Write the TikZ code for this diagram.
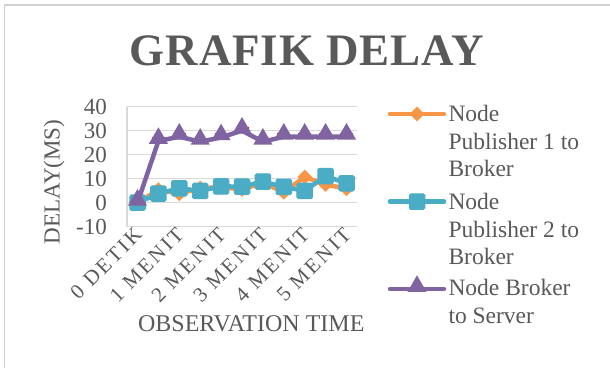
\documentclass[tikz,border=0pt]{standalone}
\usepackage{fontspec}
\setmainfont{Liberation Serif}
\newfontfamily\titlefont[LetterSpace=2]{Liberation Serif}
\newfontfamily\catfont[LetterSpace=12]{Liberation Serif}
\usetikzlibrary{shapes.geometric}
\definecolor{txtgray}{HTML}{595959}
\definecolor{gridgray}{HTML}{D9D9D9}
\definecolor{framegray}{HTML}{D0D0D0}
\definecolor{pubone}{HTML}{F79646}
\definecolor{pubtwo}{HTML}{4BACC6}
\definecolor{brkser}{HTML}{8064A2}

\begin{document}
\begin{tikzpicture}[x=1pt,y=-1pt,
  declare function={py(\v)=202.7-2.4*\v; cx(\i)=137.5+20.9*\i;},
  gridline/.style={gridgray, line width=1.3pt},
  series/.style={line width=4.5pt, line join=round, line cap=round},
  diamark/.style={diamond, fill=pubone, inner sep=0pt, minimum width=15pt, minimum height=15pt},
  sqmark/.style={rectangle, fill=pubtwo, draw=pubtwo, line width=1pt, rounded corners=1.5pt, inner sep=0pt, minimum size=15.5pt},
  trimark/.style={regular polygon, regular polygon sides=3, fill=brkser, inner sep=0pt, minimum size=22pt, yshift=2.7pt},
  redtick/.style={red, line width=2pt},
  ticklabel/.style={font=\fontsize{23}{27}\selectfont, text=txtgray, inner sep=0pt, anchor=east},
  catlabel/.style={font=\catfont\fontsize{21}{25}\selectfont, text=txtgray, inner sep=0pt, anchor=east, rotate=45},
  axtitle/.style={font=\fontsize{24}{28}\selectfont, text=txtgray, inner sep=0pt},
  legtext/.style={font=\fontsize{23.5}{27}\selectfont, text=txtgray, inner sep=0pt, anchor=base west},
  legline/.style={line width=4.5pt, line cap=round}
]
\useasboundingbox (0,0) rectangle (610,368);
\fill[white] (0,0) rectangle (610,368);

% chart frame (top and left edges)
\draw[framegray, line width=1.5pt] (4.5,368) -- (4.5,4.8) -- (610,4.8);

% title
\node[font=\titlefont\bfseries\fontsize{45}{50}\selectfont, text=txtgray, inner sep=0pt, anchor=base] (title) at (306.7,65) {GRAFIK DELAY};

% horizontal gridlines and value labels
\foreach \v [count=\k] in {-10,0,10,20,30,40} {
  \draw[gridline] (127,{py(\v)}) -- (357,{py(\v)});
  \node[ticklabel] (tick\k) at (107,{py(\v)}) {\v};
}
\draw[gridline] (127,{py(40)}) -- (127,{py(-10)});

% category labels
\foreach \lab [count=\k from 0] in {0 DETIK,1 MENIT,2 MENIT,3 MENIT,4 MENIT,5 MENIT}
  \node[catlabel] (cat\k) at ({cx(2*\k)+1},231) {\lab};

% axis titles
\node[axtitle, rotate=90, font=\fontsize{23}{27}\selectfont] (ytitle) at (54,182) {DELAY(MS)};
\node[axtitle, anchor=base] (xtitle) at (251.3,331.7) {OBSERVATION TIME};

% data points
\foreach \v [count=\i from 0] in {0,5.4,3.7,6.1,6.5,5.5,8.3,4.4,10.7,7.6,5.8}
  \coordinate (a\i) at ({cx(\i)},{py(\v)});
\foreach \v [count=\i from 0] in {0,3.8,6.0,4.9,6.8,6.7,8.8,6.6,4.9,11.1,8.1}
  \coordinate (b\i) at ({cx(\i)},{py(\v)});
\foreach \v [count=\i from 0] in {0,25.7,27.5,25.4,27.2,30,25.4,27.5,27.5,27.5,27.5}
  \coordinate (c\i) at ({cx(\i)},{py(\v)});

% Node Publisher 1 to Broker
\draw[series, pubone] (a0) \foreach \i in {1,...,10} { -- (a\i) };
\foreach \i in {0,...,10} \node[diamark] (ma\i) at (a\i) {};

% Node Publisher 2 to Broker
\draw[series, pubtwo] (b0) \foreach \i in {1,...,10} { -- (b\i) };
\foreach \i in {0,...,10} \node[sqmark] (mb\i) at (b\i) {};

% Node Broker to Server
\foreach \i in {1,...,10} {
  \coordinate (rl\i) at ([xshift=-6.5pt,yshift=3pt]c\i);
  \coordinate (rr\i) at ([xshift=6.5pt,yshift=3pt]c\i);
  \draw[redtick] (rl\i) -- (rr\i);
}
\draw[series, brkser] (c0) \foreach \i in {1,...,10} { -- (c\i) };
\foreach \i in {0,...,10} \node[trimark] (mc\i) at (c\i) {};

% legend
\coordinate (la0) at (390,114);   \coordinate (la1) at (444,114);
\coordinate (lb0) at (390,201.7); \coordinate (lb1) at (444,201.7);
\coordinate (lc0) at (390,289);   \coordinate (lc1) at (444,289);
\draw[legline, pubone] (la0) -- (la1);
\node[diamark] (lma) at (417,114) {};
\draw[legline, pubtwo] (lb0) -- (lb1);
\node[sqmark] (lmb) at (417,201.7) {};
\draw[legline, brkser] (lc0) -- (lc1);
\node[trimark] (lmc) at (417,289) {};

\node[legtext] (la) at (448.3,121.7) {Node};
\node[legtext] (lab) at (448.3,149.5) {Publisher 1 to};
\node[legtext] (lac) at (448.3,176.7) {Broker};
\node[legtext] (lb) at (448.3,209.3) {Node};
\node[legtext] (lbb) at (448.3,237) {Publisher 2 to};
\node[legtext] (lbc) at (448.3,264) {Broker};
\node[legtext] (lc) at (448.3,295.7) {Node Broker};
\node[legtext] (lcb) at (448.3,323.3) {to Server};
\end{tikzpicture}
\end{document}
